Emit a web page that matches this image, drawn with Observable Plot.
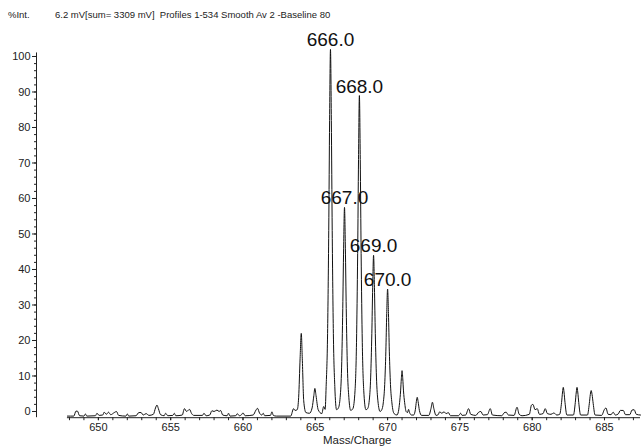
<!DOCTYPE html>
<html>
<head>
<meta charset="utf-8">
<script src="https://cdn.jsdelivr.net/npm/d3@7"></script>
<script src="https://cdn.jsdelivr.net/npm/@observablehq/plot@0.6"></script>
<style>
  body { margin: 0; background: white; }
  #wrap { position: relative; width: 643px; height: 447px; overflow: hidden; }
  #wrap svg { position: absolute; left: 0; top: 0; }
  .hdr { position: absolute; top: 9px; font-family: "Liberation Sans", Arial, sans-serif; font-size: 9.5px; color: #222; white-space: pre; z-index: 2; }
</style>
</head>
<body>
<div id="wrap">
  <span class="hdr" style="left:8px">%Int.</span>
  <span class="hdr" style="left:55px">6.2 mV[sum= 3309 mV]  Profiles 1-534 Smooth Av 2 -Baseline 80</span>
</div>
<script>
// Spectrum profile: [mass/charge, %intensity]
const profile = [
  [647.86,-1.3],[648.3,-1.3],[648.45,0.1],[648.55,0.1],[648.7,-1.2],[649.0,-1.3],[649.1,-0.7],[649.2,-1.3],
  [649.8,-1.2],[649.9,-0.5],[650.05,-1.1],[650.3,-1.0],[650.4,-0.2],[650.55,-0.8],[650.7,-0.2],[650.85,-0.9],
  [651.1,-0.3],[651.25,0.0],[651.4,-1.1],[651.9,-1.3],[652.0,-0.7],[652.1,-1.3],[652.6,-1.2],[652.8,-0.3],
  [652.95,-0.3],[653.1,-1.0],[653.3,-0.6],[653.5,-1.1],[653.8,-0.8],[653.95,1.0],[654.05,1.8],[654.15,0.8],
  [654.3,-0.9],[654.55,-1.2],[654.65,-0.5],[654.8,-1.2],[655.15,-1.1],[655.25,-0.5],[655.35,-1.2],[655.8,-1.0],
  [655.95,0.8],[656.1,0.0],[656.3,0.6],[656.45,-0.6],[656.6,-1.1],[657.2,-1.1],[657.3,-0.5],[657.45,-1.2],
  [657.7,-1.0],[657.85,0.2],[658.0,0.0],[658.2,0.4],[658.35,0.0],[658.45,0.3],[658.6,-1.0],[658.9,-1.2],
  [659.0,-0.5],[659.1,-1.3],[659.5,-1.2],[659.6,-0.6],[659.75,-1.2],[659.9,-0.9],[660.0,-0.4],[660.15,-1.2],
  [660.7,-1.0],[660.9,0.4],[661.0,0.9],[661.15,-0.5],[661.3,-1.0],[661.4,-0.5],[661.5,-1.2],[661.9,-1.1],
  [662.0,-0.1],[662.1,-1.1],[662.3,-1.3],[663.3,-1.3],[663.5,0.8],[663.6,0.3],[663.75,0.5],[663.85,4],
  [663.95,15],[664.03,22],[664.1,15],[664.2,3],[664.35,-0.3],[664.6,-0.5],[664.78,1],[664.9,4.5],
  [664.97,6.5],[665.05,4.5],[665.2,0.5],[665.45,-0.6],[665.58,1.4],[665.68,0.6],[665.75,7],[665.85,22],
  [665.93,51],[665.99,82],[666.05,102],[666.11,82],[666.17,51],[666.25,22],[666.35,7],[666.47,0.5],
  [666.6,1],[666.72,4],[666.82,12.5],[666.9,29],[666.96,46],[667.02,57.5],[667.08,46],[667.14,29],
  [667.22,12.5],[667.32,4],[667.45,0.3],[667.6,0.8],[667.75,6],[667.85,19.5],[667.93,44.5],[667.99,71],
  [668.05,89],[668.11,71],[668.17,44.5],[668.25,19.5],[668.35,6],[668.5,0.5],[668.62,0.8],[668.73,3],
  [668.83,9.7],[668.91,22],[668.97,35],[669.03,44],[669.09,35],[669.15,22],[669.23,9.7],[669.33,3],
  [669.48,0],[669.6,0.5],[669.7,2.4],[669.8,7.6],[669.88,17],[669.94,27.6],[670.0,34.5],[670.06,27.6],
  [670.12,17],[670.2,7.6],[670.3,2.4],[670.45,-0.6],[670.65,-1],[670.75,0],[670.83,2.5],[670.9,5.8],
  [670.95,9.2],[671.0,11.5],[671.05,9.2],[671.1,5.8],[671.18,2.5],[671.28,0],[671.38,-0.3],[671.45,0.6],
  [671.52,-0.3],[671.65,-1],[671.8,-1],[671.92,0.5],[671.99,2.8],[672.05,4],[672.11,2.8],[672.2,0.3],
  [672.35,-1.1],[672.85,-1.1],[673.0,0.8],[673.1,2.6],[673.2,0.8],[673.35,-1.1],[673.5,-0.9],[673.6,-0.1],
  [673.75,-0.5],[673.9,-0.1],[674.05,-0.6],[674.2,-0.3],[674.35,-1.2],[674.9,-1.2],[675.05,-0.5],[675.15,-1.1],
  [675.4,-1.0],[675.6,0.8],[675.75,-0.8],[676.1,-1.1],[676.3,-0.2],[676.45,0.0],[676.6,-1.0],[676.9,-0.9],
  [677.1,0.8],[677.25,-1.0],[677.9,-1.2],[678.05,-0.4],[678.2,-0.2],[678.35,-1.0],[678.75,-1.1],[678.95,1.2],
  [679.1,-0.8],[679.3,-1.2],[679.8,-0.8],[679.95,1.8],[680.05,2.0],[680.2,0.5],[680.35,0.8],[680.5,-0.8],
  [680.75,-0.6],[680.9,0.8],[681.05,-0.6],[681.3,-0.8],[681.5,-0.4],[681.7,-1.0],[681.9,-0.8],[682.03,2.5],
  [682.1,5.5],[682.15,6.8],[682.2,5.5],[682.27,2.5],[682.4,-1.0],[682.85,-1.0],[682.98,2.5],[683.05,5.5],
  [683.1,6.8],[683.15,5.5],[683.22,2.5],[683.35,-1.0],[683.82,-1.0],[683.95,2.2],[684.02,4.8],[684.08,5.9],
  [684.14,4.8],[684.22,2.2],[684.35,-1.0],[684.8,-1.1],[685.0,0.6],[685.1,1.0],[685.25,-0.8],[685.45,-0.9],
  [685.6,-0.2],[685.75,-1.0],[685.95,-0.7],[686.1,0.3],[686.3,0.3],[686.45,-0.9],[686.75,-0.9],[686.9,0.4],
  [687.05,0.5],[687.2,-0.8],[687.49,-1.0]
];

// Labelled peaks
const peakMass = [666.05, 667.02, 668.05, 669.03, 670.0];
const peakIntensity = [102, 57.5, 89, 44, 34.5];
const peakLabels = ["666.0", "667.0", "668.0", "669.0", "670.0"];

// Ticks
const xMajorTicks = [650, 655, 660, 665, 670, 675, 680, 685];
const xMinorTicks = d3.range(648, 688, 1);
const yMajorTicks = [0, 10, 20, 30, 40, 50, 60, 70, 80, 90, 100];
const yMinorTicks = d3.range(0, 101, 2);

const xAxisLabel = "Mass/Charge";
const xAxisLabelPos = 667.9;

const peaks = peakMass.map((m, i) => ({m, v: peakIntensity[i], label: peakLabels[i]}));

const chart = Plot.plot({
  width: 643,
  height: 447,
  marginLeft: 36,
  marginRight: 3,
  marginTop: 41.8,
  marginBottom: 29.8,
  style: {fontFamily: "'Liberation Sans', Arial, sans-serif", fontSize: "11px", color: "#222", background: "transparent"},
  x: {domain: [645.72, 687.49], axis: null, label: null},
  y: {domain: [-1.75, 104], axis: null, label: null},
  marks: [
    // x axis line (starts right of the y axis)
    Plot.ruleY([-1.75], {x1: 647.86, x2: 687.49, stroke: "#222", strokeWidth: 1}),
    Plot.axisX({ticks: xMinorTicks, tickSize: 3, tickFormat: () => "", label: null, stroke: "#222"}),
    Plot.axisX({ticks: xMajorTicks, tickSize: 3, tickPadding: 2, fontSize: 11, label: null, stroke: "#222", fill: "#222"}),
    Plot.text([xAxisLabel], {x: () => xAxisLabelPos, frameAnchor: "bottom", dy: 26, fontSize: 11.5, fill: "#222"}),
    // y axis line
    Plot.ruleX([645.72], {y1: -1.75, y2: 101, stroke: "#222", strokeWidth: 1}),
    Plot.axisY({ticks: yMinorTicks, tickSize: 2, tickFormat: () => "", label: null, stroke: "#222"}),
    Plot.axisY({ticks: yMajorTicks, tickSize: 4, tickPadding: 2, fontSize: 11, label: null, stroke: "#222", fill: "#222"}),
    // spectrum
    Plot.line(profile, {x: d => d[0], y: d => d[1], stroke: "#111", strokeWidth: 1, curve: "monotone-x"}),
    // peak labels
    Plot.text(peaks, {x: "m", y: "v", text: "label", lineAnchor: "bottom", dy: -3, fontSize: 19, fill: "#111"})
  ]
});
document.getElementById("wrap").appendChild(chart);
</script>
</body>
</html>
